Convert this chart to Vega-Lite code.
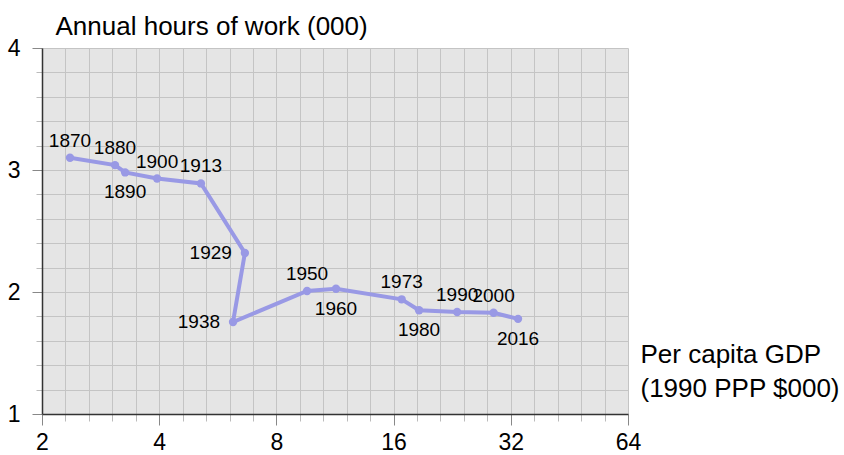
{
  "$schema": "https://vega.github.io/schema/vega-lite/v6.json",
  "width": 586,
  "height": 366,
  "autosize": "none",
  "padding": {"left": 42, "top": 48, "right": 216, "bottom": 41},
  "background": "white",
  "config": {
    "view": {"fill": "#e5e5e5", "stroke": null},
    "font": "Liberation Sans",
    "axis": {"domainColor": "#333333", "domainWidth": 1.5, "gridColor": "#c4c4c4", "gridWidth": 1, "labelColor": "#000000", "titleColor": "#000000", "titleFontWeight": "normal", "labelFont": "Liberation Sans", "titleFont": "Liberation Sans"}
  },
  "data": {
    "values": [
      {"year": 1870, "gdp": 2.36, "hours": 3.10},
      {"year": 1880, "gdp": 3.08, "hours": 3.04},
      {"year": 1890, "gdp": 3.27, "hours": 2.98},
      {"year": 1900, "gdp": 3.95, "hours": 2.93},
      {"year": 1913, "gdp": 5.12, "hours": 2.89},
      {"year": 1929, "gdp": 6.64, "hours": 2.32},
      {"year": 1938, "gdp": 6.19, "hours": 1.754},
      {"year": 1950, "gdp": 9.59, "hours": 2.008},
      {"year": 1960, "gdp": 11.38, "hours": 2.027},
      {"year": 1973, "gdp": 16.78, "hours": 1.94},
      {"year": 1980, "gdp": 18.6, "hours": 1.85},
      {"year": 1990, "gdp": 23.3, "hours": 1.836},
      {"year": 2000, "gdp": 28.9, "hours": 1.83},
      {"year": 2016, "gdp": 33.4, "hours": 1.78}
    ]
  },
  "encoding": {
    "x": {
      "field": "gdp",
      "type": "quantitative",
      "scale": {"type": "log", "base": 2, "domain": [2, 64], "nice": false},
      "axis": {
        "values": [2, 2.297397, 2.639016, 3.031433, 3.482202, 4, 4.594793, 5.278032, 6.062866, 6.964405, 8, 9.189587, 10.556063, 12.125733, 13.928809, 16, 18.379174, 21.112127, 24.251465, 27.857618, 32, 36.758347, 42.224253, 48.50293, 55.715236, 64],
        "grid": true,
        "labelExpr": "abs(log(datum.value)/log(2) - round(log(datum.value)/log(2))) < 0.001 ? format(datum.value, '.0f') : ''",
        "labelFlush": false,
        "labelOverlap": false,
        "labelFontSize": 23,
        "labelPadding": 6,
        "tickSize": {"condition": {"test": "abs(log(datum.value)/log(2) - round(log(datum.value)/log(2))) < 0.001", "value": 11}, "value": 7},
        "tickColor": {"condition": {"test": "abs(log(datum.value)/log(2) - round(log(datum.value)/log(2))) < 0.001", "value": "#888888"}, "value": "#bbbbbb"},
        "title": ["Per capita GDP", "(1990 PPP $000)"],
        "titleFontSize": 26,
        "titleAngle": 0,
        "titleAlign": "left",
        "titleBaseline": "alphabetic",
        "titleLineHeight": 34,
        "titleX": 598,
        "titleY": -52
      }
    },
    "y": {
      "field": "hours",
      "type": "quantitative",
      "scale": {"domain": [1, 4], "nice": false, "zero": false},
      "axis": {
        "values": [1, 1.2, 1.4, 1.6, 1.8, 2, 2.2, 2.4, 2.6, 2.8, 3, 3.2, 3.4, 3.6, 3.8, 4],
        "grid": true,
        "labelExpr": "abs(datum.value - round(datum.value)) < 0.001 ? format(datum.value, '.0f') : ''",
        "labelFlush": false,
        "labelOverlap": false,
        "labelFontSize": 23,
        "labelPadding": 12,
        "tickSize": {"condition": {"test": "abs(datum.value - round(datum.value)) < 0.001", "value": 10}, "value": 6},
        "tickColor": {"condition": {"test": "abs(datum.value - round(datum.value)) < 0.001", "value": "#888888"}, "value": "#bbbbbb"},
        "title": "Annual hours of work (000)",
        "titleFontSize": 26,
        "titleAngle": 0,
        "titleAlign": "left",
        "titleBaseline": "alphabetic",
        "titleX": 13,
        "titleY": -14
      }
    }
  },
  "layer": [
    {
      "mark": {"type": "line", "color": "#9999e5", "strokeWidth": 4},
      "encoding": {"order": {"field": "year", "type": "quantitative"}}
    },
    {
      "mark": {"type": "point", "filled": true, "color": "#9999e5", "opacity": 1, "size": 70}
    },
    {
      "transform": [{"filter": {"field": "year", "oneOf": [1870, 1880, 1900, 1913, 1950, 1973, 1990, 2000]}}],
      "mark": {"type": "text", "fontSize": 19, "align": "center", "baseline": "alphabetic", "dy": -11, "color": "#000000"},
      "encoding": {"text": {"field": "year", "type": "nominal"}}
    },
    {
      "transform": [{"filter": {"field": "year", "oneOf": [1890, 1960, 1980, 2016]}}],
      "mark": {"type": "text", "fontSize": 19, "align": "center", "baseline": "top", "dy": 11, "color": "#000000"},
      "encoding": {"text": {"field": "year", "type": "nominal"}}
    },
    {
      "transform": [{"filter": {"field": "year", "oneOf": [1929, 1938]}}],
      "mark": {"type": "text", "fontSize": 19, "align": "right", "baseline": "middle", "dx": -13, "color": "#000000"},
      "encoding": {"text": {"field": "year", "type": "nominal"}}
    }
  ]
}
